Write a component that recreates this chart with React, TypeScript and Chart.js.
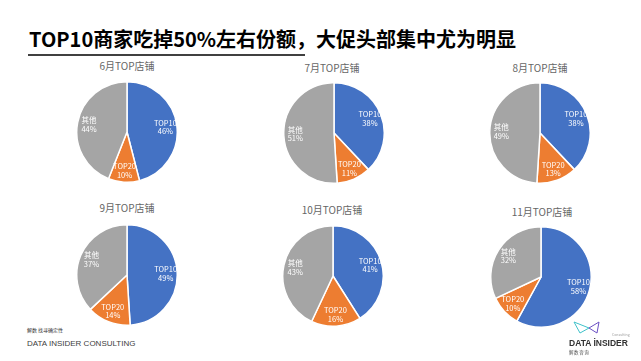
import React, { useEffect, useRef } from "react";
import { Chart, registerables } from "chart.js";

Chart.register(...registerables);

const sliceLabels = ["TOP10", "TOP20", "其他"];
const monthTitles = ["6月TOP店铺", "7月TOP店铺", "8月TOP店铺", "9月TOP店铺", "10月TOP店铺", "11月TOP店铺"];
const top10Share = [46, 38, 38, 49, 41, 58];
const top20Share = [10, 11, 13, 14, 16, 10];
const otherShare = [44, 51, 49, 37, 43, 32];
const sliceColors = ["#4472C4", "#ED7D31", "#A5A5A5"];

const FONT = '"Noto Sans CJK SC", "Noto Sans", sans-serif';
const LATIN = '"Liberation Sans", Arial, sans-serif';

// layout: pie centers and title positions
const pieCenters = [
  [127, 132],
  [334, 133],
  [540, 133],
  [127, 275],
  [333, 276],
  [541, 277],
];
const titleY = [66, 68, 68, 208, 210, 212];
const titleX = [127, 332, 540, 127, 332, 542];
const PIE_SIZE = 102;

const labelPlugin = {
  id: "sliceLabels",
  afterDatasetsDraw(chart: any) {
    const ctx = chart.ctx;
    const meta = chart.getDatasetMeta(0);
    const data = chart.data.datasets[0].data;
    ctx.save();
    ctx.fillStyle = "#ffffff";
    ctx.font = `7.5px ${FONT}`;
    ctx.textAlign = "center";
    ctx.textBaseline = "middle";
    meta.data.forEach((arc: any, i: number) => {
      const p = arc.getProps(["x", "y", "startAngle", "endAngle", "outerRadius"], true);
      const mid = (p.startAngle + p.endAngle) / 2;
      const r = p.outerRadius * 0.77;
      const x = p.x + Math.cos(mid) * r;
      const y = p.y + Math.sin(mid) * r;
      ctx.fillText(chart.data.labels[i], x, y - 4.2);
      ctx.fillText(`${data[i]}%`, x, y + 4.2);
    });
    ctx.restore();
  },
};

function Pie({ idx }: { idx: number }) {
  const ref = useRef<HTMLCanvasElement | null>(null);
  useEffect(() => {
    if (!ref.current) return;
    const chart = new Chart(ref.current, {
      type: "pie",
      data: {
        labels: sliceLabels,
        datasets: [
          {
            data: [top10Share[idx], top20Share[idx], otherShare[idx]],
            backgroundColor: sliceColors,
            borderColor: "#ffffff",
            borderWidth: 1.5,
          },
        ],
      },
      options: {
        responsive: false,
        maintainAspectRatio: false,
        animation: false,
        layout: { padding: 0 },
        plugins: {
          legend: { display: false },
          tooltip: { enabled: false },
          title: { display: false },
        },
      },
      plugins: [labelPlugin],
    });
    return () => chart.destroy();
  }, [idx]);
  const [cx, cy] = pieCenters[idx];
  return (
    <>
      <div
        style={{
          position: "absolute",
          left: titleX[idx] - 60,
          width: 120,
          top: titleY[idx] - 7,
          height: 14,
          lineHeight: "14px",
          textAlign: "center",
          fontFamily: FONT,
          fontSize: 10,
          color: "#666666",
          whiteSpace: "nowrap",
        }}
      >
        {monthTitles[idx]}
      </div>
      <canvas
        ref={ref}
        width={PIE_SIZE}
        height={PIE_SIZE}
        style={{
          position: "absolute",
          left: cx - PIE_SIZE / 2,
          top: cy - PIE_SIZE / 2,
          width: PIE_SIZE,
          height: PIE_SIZE,
        }}
      />
    </>
  );
}

export default function App() {
  return (
    <div
      style={{
        position: "fixed",
        left: 0,
        top: 0,
        width: 641,
        height: 361,
        background: "#ffffff",
        overflow: "hidden",
        fontFamily: FONT,
      }}
    >
      <div
        style={{
          position: "absolute",
          left: 29,
          top: 28,
          fontSize: 20,
          lineHeight: "22px",
          fontWeight: 700,
          color: "#000000",
          whiteSpace: "nowrap",
        }}
      >
        TOP10商家吃掉50%左右份额，大促头部集中尤为明显
      </div>
      <div
        style={{
          position: "absolute",
          left: 28,
          top: 54,
          width: 277,
          height: 1.5,
          background: "#404040",
        }}
      />
      {monthTitles.map((_, i) => (
        <Pie key={i} idx={i} />
      ))}
      <div
        style={{
          position: "absolute",
          left: 27,
          top: 326,
          fontSize: 5,
          lineHeight: "8px",
          color: "#333333",
          whiteSpace: "nowrap",
        }}
      >
        解数 找寻确定性
      </div>
      <div
        style={{
          position: "absolute",
          left: 27,
          top: 339,
          fontSize: 8,
          lineHeight: "10px",
          color: "#404040",
          fontFamily: LATIN,
          whiteSpace: "nowrap",
        }}
      >
        DATA INSIDER CONSULTING
      </div>
      <svg
        style={{ position: "absolute", left: 572, top: 320 }}
        width={30}
        height={15}
        viewBox="0 0 30 15"
      >
        <polygon points="2,2 8,13 17,8" fill="none" stroke="#3fc1c9" strokeWidth={1} />
        <polygon points="17,8 27,2 25,13" fill="none" stroke="#6a4fc3" strokeWidth={1} />
      </svg>
      <div
        style={{
          position: "absolute",
          left: 612,
          top: 333,
          fontSize: 3.5,
          lineHeight: "4px",
          color: "#999999",
          whiteSpace: "nowrap",
        }}
      >
        Consulting
      </div>
      <div
        style={{
          position: "absolute",
          left: 569,
          top: 338,
          fontSize: 8.5,
          lineHeight: "10px",
          fontWeight: 700,
          color: "#333333",
          fontFamily: LATIN,
          whiteSpace: "nowrap",
        }}
      >
        DATA İNSIDER
      </div>
      <div
        style={{
          position: "absolute",
          left: 569,
          top: 349,
          fontSize: 4.5,
          lineHeight: "6px",
          letterSpacing: 0.6,
          color: "#555555",
          whiteSpace: "nowrap",
        }}
      >
        解数咨询
      </div>
    </div>
  );
}
